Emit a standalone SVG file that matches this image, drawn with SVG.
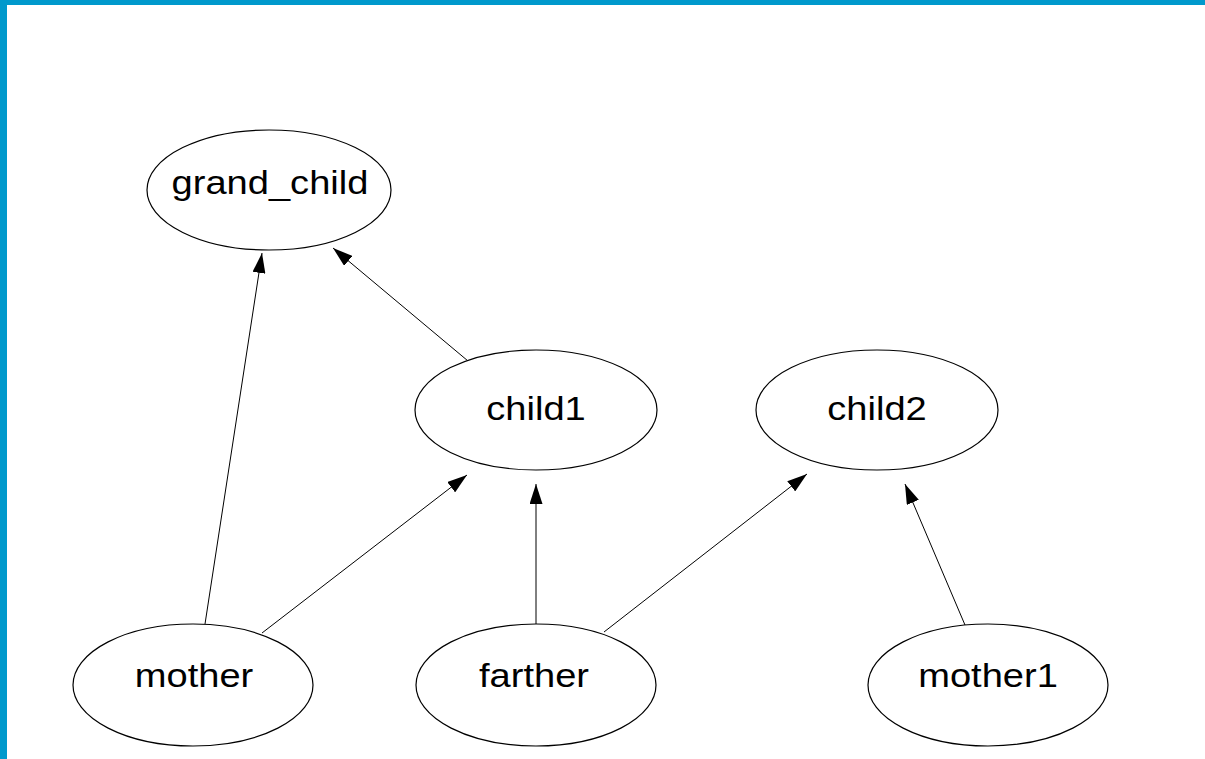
<svg xmlns="http://www.w3.org/2000/svg" width="1205" height="759" viewBox="0 0 1205 759">
  <style>
    .node ellipse { fill: #ffffff; stroke: #000000; stroke-width: 1.2; }
    .node text { font-family: "Liberation Sans", Arial, sans-serif; font-size: 34px; fill: #000000; text-anchor: middle; }
    .edge { stroke: #000000; stroke-width: 1; fill: none; marker-end: url(#arrow); }
  </style>
  <defs>
    <marker id="arrow" markerUnits="userSpaceOnUse" markerWidth="20" markerHeight="13" refX="20" refY="6.5" orient="auto">
      <path d="M0,0 L20,6.5 L0,13 z" fill="#000000"/>
    </marker>
  </defs>
  <rect x="0" y="0" width="1205" height="759" fill="#ffffff"/>
  <rect x="0" y="0" width="1205" height="5" fill="#0099cc"/>
  <rect x="0" y="0" width="7" height="759" fill="#0099cc"/>

  <g id="connectors">
    <line class="edge" x1="205" y1="624" x2="262" y2="253"/>
    <line class="edge" x1="474" y1="366" x2="333" y2="248"/>
    <line class="edge" x1="262" y1="633" x2="467" y2="475"/>
    <line class="edge" x1="536" y1="624" x2="536" y2="484"/>
    <line class="edge" x1="604" y1="632" x2="807" y2="474"/>
    <line class="edge" x1="965" y1="625" x2="905" y2="484"/>
  </g>

  <g id="grand_child" class="node">
    <ellipse cx="269" cy="190" rx="122" ry="60"/>
    <text transform="translate(270,194) scale(1.12,1)" x="0" y="0">grand_child</text>
  </g>
  <g id="child1" class="node">
    <ellipse cx="536" cy="410" rx="121" ry="60"/>
    <text transform="translate(536,420) scale(1.12,1)" x="0" y="0">child1</text>
  </g>
  <g id="child2" class="node">
    <ellipse cx="877" cy="410" rx="121" ry="60"/>
    <text transform="translate(877,420) scale(1.12,1)" x="0" y="0">child2</text>
  </g>
  <g id="mother" class="node">
    <ellipse cx="193" cy="685" rx="120" ry="61"/>
    <text transform="translate(194,687) scale(1.12,1)" x="0" y="0">mother</text>
  </g>
  <g id="farther" class="node">
    <ellipse cx="536" cy="685" rx="120" ry="61"/>
    <text transform="translate(534,687) scale(1.12,1)" x="0" y="0">farther</text>
  </g>
  <g id="mother1" class="node">
    <ellipse cx="988" cy="685" rx="120" ry="61"/>
    <text transform="translate(988,687) scale(1.12,1)" x="0" y="0">mother1</text>
  </g>
</svg>
